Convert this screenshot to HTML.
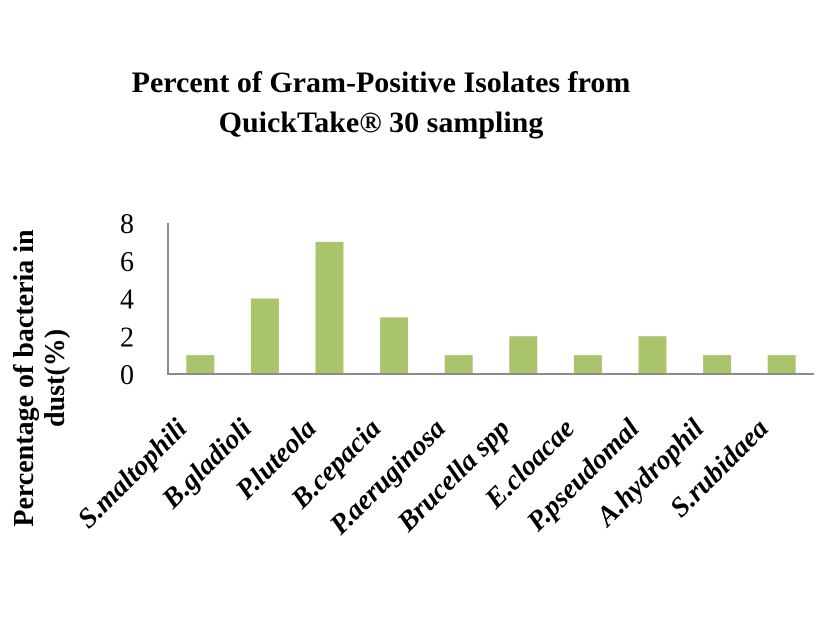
<!DOCTYPE html>
<html><head><meta charset="utf-8"><style>
body{margin:0;background:#fff}
svg text{font-family:"Liberation Serif",serif}
</style></head><body>
<svg id="chart" width="820" height="615" xmlns="http://www.w3.org/2000/svg">
<text x="381" y="92" text-anchor="middle" font-size="30" font-weight="bold">Percent of Gram-Positive Isolates from</text>
<text x="381" y="132" text-anchor="middle" font-size="30" font-weight="bold">QuickTake® 30 sampling</text>
<g transform="translate(0,378) rotate(-90)">
<text x="0" y="33" text-anchor="middle" font-size="28" font-weight="bold">Percentage of bacteria in</text>
<text x="0" y="64" text-anchor="middle" font-size="28" font-weight="bold">dust(%)</text>
</g>
<g id="plot"></g>
</svg>
<script>
const categories=["S.maltophili","B.gladioli","P.luteola","B.cepacia","P.aeruginosa","Brucella spp","E.cloacae","P.pseudomal","A.hydrophil","S.rubidaea"];
const values=[1,4,7,3,1,2,1,2,1,1];
const yTicks=[0,2,4,6,8];
const NS="http://www.w3.org/2000/svg";
const g=document.getElementById('plot');
const x0=168,x1=814,y0=374,yTop=223,yMax=8;
const band=(x1-x0)/categories.length;
const y=v=>y0-(v/yMax)*(y0-yTop);
const xc=i=>x0+band*(i+0.5);
function mk(t,a){const e=document.createElementNS(NS,t);for(const k in a)e.setAttribute(k,a[k]);g.appendChild(e);return e;}
yTicks.forEach(t=>{
 const e=mk('text',{x:134,y:y(t)+10,'text-anchor':'end','font-size':28});
 e.textContent=t;
 
 
});
values.forEach((v,i)=>{
 const r=mk('rect',{x:xc(i)-14,y:y(v),width:28,height:y0-y(v),fill:'#a9c46b'});
 
 
});
const ax=mk('path',{d:`M${x0},${yTop} V${y0} H${x1}`,stroke:'#8c8c8c','stroke-width':2,fill:'none'});


categories.forEach((c,i)=>{
 const t=mk('text',{transform:`translate(${xc(i)-12},${y0+56}) rotate(-45)`,'text-anchor':'end','font-size':28,'font-weight':'bold','font-style':'italic'});
 t.textContent=c;
 
 
});
</script>
</body></html>
